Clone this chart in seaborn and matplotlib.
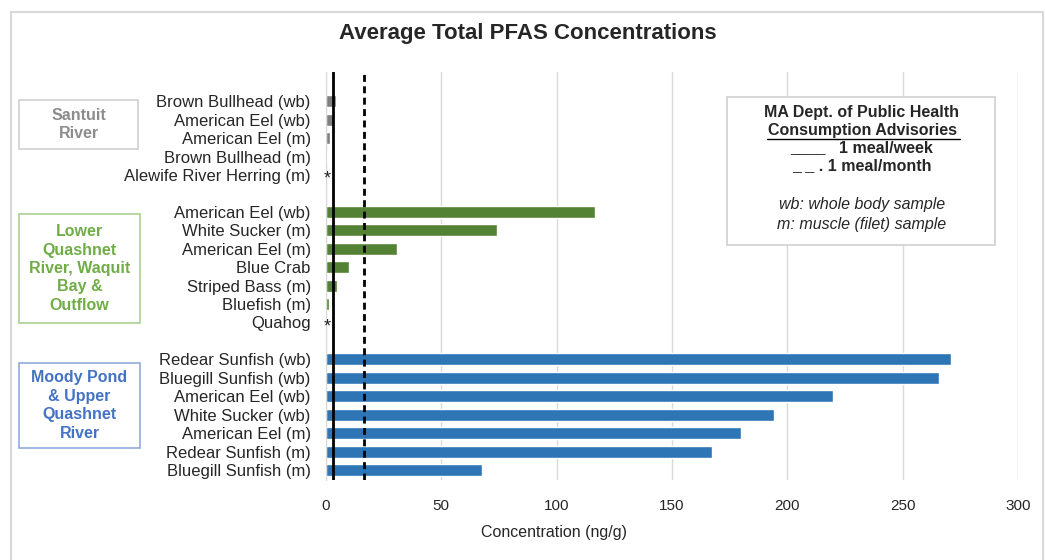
import numpy as np
import pandas as pd
import matplotlib.pyplot as plt
import seaborn as sns
from matplotlib.patches import Rectangle
from matplotlib.lines import Line2D

sns.set_style("white")
plt.rcParams["font.family"] = ["Liberation Sans", "DejaVu Sans"]

# ======================
# DATA (ng/g; nan = no detection, shown as *)
# ======================
santuit_labels = ["Brown Bullhead (wb)", "American Eel (wb)", "American Eel (m)",
                  "Brown Bullhead (m)", "Alewife River Herring (m)"]
santuit_values = [4.3, 3.0, 1.7, 0.5, np.nan]

lower_labels = ["American Eel (wb)", "White Sucker (m)", "American Eel (m)",
                "Blue Crab", "Striped Bass (m)", "Bluefish (m)", "Quahog"]
lower_values = [116.6, 74.1, 30.8, 10.0, 4.8, 1.2, np.nan]

moody_labels = ["Redear Sunfish (wb)", "Bluegill Sunfish (wb)", "American Eel (wb)",
                "White Sucker (wb)", "American Eel (m)", "Redear Sunfish (m)",
                "Bluegill Sunfish (m)"]
moody_values = [271.0, 265.7, 219.8, 194.2, 179.9, 167.3, 67.6]

group_names = ["Santuit\nRiver",
               "Lower\nQuashnet\nRiver, Waquit\nBay &\nOutflow",
               "Moody Pond\n& Upper\nQuashnet\nRiver"]
group_colors = ["#7f7f7f", "#548235", "#2e75b6"]
group_text_colors = ["#8c8c8c", "#70ad47", "#4472c4"]
group_edge_colors = ["#d0d0d0", "#a9d18e", "#8faadc"]

advisory_week = 2.9
advisory_month = 16.4

# ======================
# TABLE
# ======================
rows = []
order = []
ticklabels = []
groups = [(santuit_labels, santuit_values), (lower_labels, lower_values),
          (moody_labels, moody_values)]
for gi, (labels, values) in enumerate(groups):
    if gi > 0:
        order.append(f"gap{gi}")
        ticklabels.append("")
    for lab, val in zip(labels, values):
        key = f"{gi}|{lab}"
        order.append(key)
        ticklabels.append(lab)
        rows.append({"Key": key, "Value": val, "Group": str(gi)})
df = pd.DataFrame(rows)

# ======================
# PLOTTING
# ======================
fig = plt.figure(figsize=(10.45, 5.6), dpi=100)
ax = fig.add_axes([0.312, 0.143, 0.662, 0.728])

sns.barplot(
    data=df.dropna(),
    y="Key",
    x="Value",
    hue="Group",
    order=order,
    palette={str(i): c for i, c in enumerate(group_colors)},
    saturation=1,
    dodge=False,
    width=0.65,
    legend=False,
    ax=ax,
)

# asterisks for missing values
for i, key in enumerate(order):
    sub = df[df["Key"] == key]
    if len(sub) and sub["Value"].isna().all():
        ax.text(0.4, i + 0.22, "*", ha="center", va="center", fontsize=13,
                zorder=6)

ax.set_xlim(0, 300)
ax.set_ylim(len(order) - 0.46, -1.57)
ax.set_xticks(range(0, 301, 50))
ax.set_yticks(range(len(order)))
ax.set_yticklabels(ticklabels)
ax.tick_params(axis="y", length=0, pad=11, labelsize=12)
ax.tick_params(axis="x", length=0, pad=14, labelsize=11)
ax.set_xlabel("")
ax.set_ylabel("")
ax.xaxis.grid(True, color="#d9d9d9", linewidth=1)
ax.set_axisbelow(True)
for side in ["top", "right", "bottom"]:
    ax.spines[side].set_visible(False)
ax.spines["left"].set_color("#d9d9d9")

ax.axvline(advisory_week, color="black", linewidth=2, zorder=5)
ax.axvline(advisory_month, color="black", linewidth=2,
           linestyle=(0, (2.5, 1.6)), zorder=5)

# titles
fig.text(0.505, 1 - 34 / 560, "Average Total PFAS Concentrations",
         ha="center", va="center", fontsize=16, fontweight="bold")
fig.text(554 / 1045, 1 - 533 / 560, "Concentration (ng/g)",
         ha="center", va="center", fontsize=11.5)

# outer frame
fig.add_artist(Rectangle((11 / 1045, -0.05), 1032 / 1045, 1.05 - 12 / 560,
                         transform=fig.transFigure, fill=False,
                         edgecolor="#d9d9d9", linewidth=1.5))

# group boxes (pixel coords: x0, y0, x1, y1)
boxes = [(19, 100, 138, 149), (19, 214, 140, 323), (19, 363, 140, 448)]
for (x0, y0, x1, y1), name, tc, ec in zip(boxes, group_names,
                                          group_text_colors, group_edge_colors):
    fig.add_artist(Rectangle((x0 / 1045, 1 - y1 / 560), (x1 - x0) / 1045,
                             (y1 - y0) / 560, transform=fig.transFigure,
                             fill=False, edgecolor=ec, linewidth=1.2))
    fig.text((x0 + x1) / 2 / 1045, 1 - (y0 + y1) / 2 / 560, name,
             ha="center", va="center", fontsize=11.5, fontweight="bold",
             color=tc, linespacing=1.28)

# advisory legend box
fig.add_artist(Rectangle((727 / 1045, 1 - 245 / 560), 268 / 1045, 148 / 560,
                         transform=fig.transFigure, fill=True,
                         facecolor="white", edgecolor="#d0d0d0",
                         linewidth=1.2, zorder=3))
cx = 862 / 1045
fig.text(cx, 1 - 112 / 560, "MA Dept. of Public Health", ha="center",
         va="center", fontsize=11.5, fontweight="bold", zorder=4)
fig.text(cx, 1 - 130 / 560, "Consumption Advisories", ha="center",
         va="center", fontsize=11.5, fontweight="bold", zorder=4)
fig.add_artist(Line2D([767 / 1045, 960 / 1045], [1 - 138.5 / 560, 1 - 138.5 / 560],
                      transform=fig.transFigure, color="black", lw=1, zorder=4))
fig.text(cx, 1 - 148 / 560, "____   1 meal/week", ha="center",
         va="center", fontsize=11.5, fontweight="bold", zorder=4)
fig.text(cx, 1 - 166 / 560, "_ _ . 1 meal/month", ha="center",
         va="center", fontsize=11.5, fontweight="bold", zorder=4)
fig.text(cx, 1 - 205 / 560, "wb: whole body sample", ha="center",
         va="center", fontsize=11.5, style="italic", zorder=4)
fig.text(cx, 1 - 224 / 560, "m: muscle (filet) sample", ha="center",
         va="center", fontsize=11.5, style="italic", zorder=4)

plt.savefig("out.png", dpi=100)
plt.close()
